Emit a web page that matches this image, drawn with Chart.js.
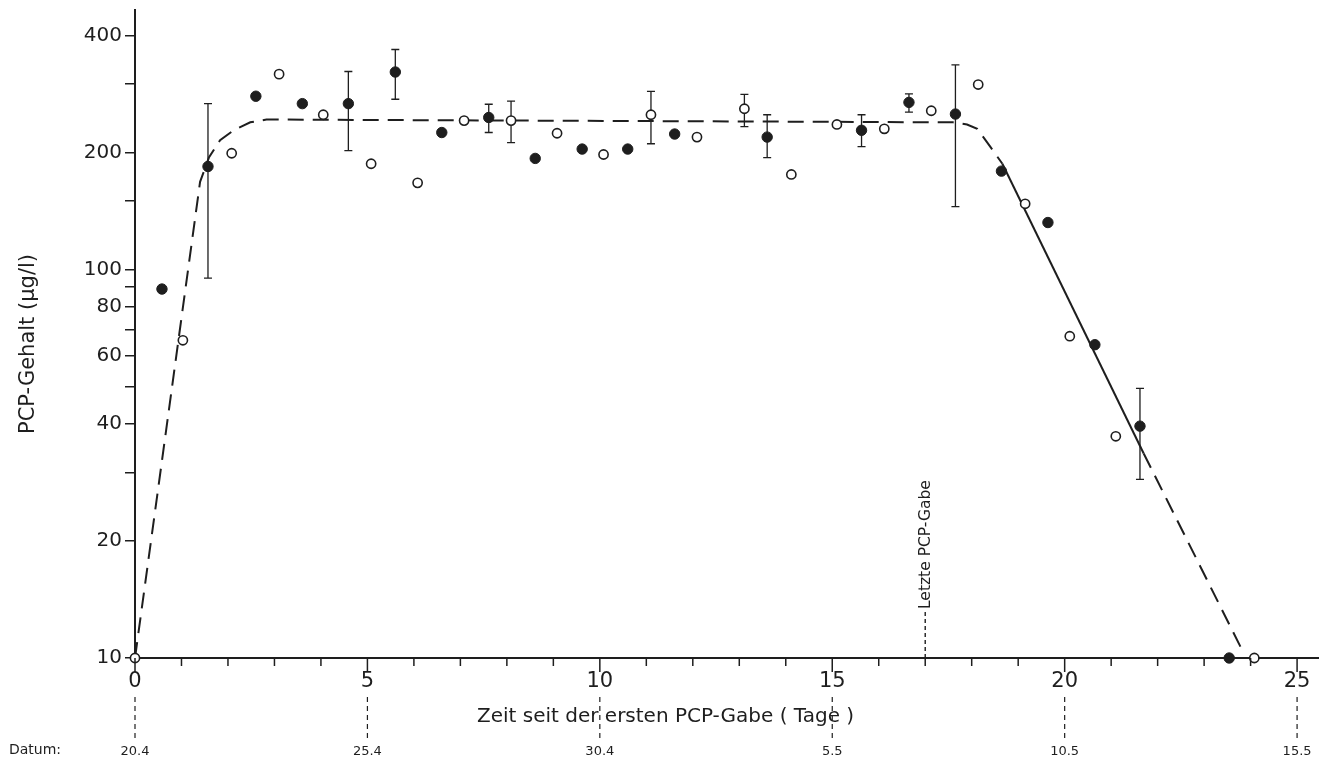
<!DOCTYPE html>
<html>
<head>
<meta charset="utf-8">
<script src="https://cdn.jsdelivr.net/npm/chart.js@4.4.0/dist/chart.umd.min.js"></script>
<style>
  html, body { margin: 0; padding: 0; background: #fff; }
  #wrap { width: 1331px; height: 767px; }
</style>
</head>
<body>
<div id="wrap"><canvas id="c"></canvas></div>
<script>
// ==== DATA ====
// filled circles
const filledDays = [0.58, 1.57, 2.6, 3.6, 4.59, 5.6, 6.6, 7.61, 8.61, 9.62, 10.6, 11.61, 13.6, 15.63, 16.65, 17.65, 18.64, 19.64, 20.65, 21.62, 23.54];
const filledPCP  = [89, 184, 279, 267, 267, 322, 225, 246, 193, 204, 204, 223, 219, 228, 269, 251, 179, 132, 64, 39.5, 10];
const filledLow  = [null, 95, null, null, 202, 274, null, 225, null, null, null, null, 194, 207, 254, 145, null, null, null, 28.8, null];
const filledHigh = [null, 267, null, null, 323, 368, null, 266, null, null, null, null, 250, 250, 283, 336, null, null, null, 49.4, null];

// open circles
const openDays = [0, 1.03, 2.08, 3.1, 4.05, 5.08, 6.08, 7.08, 8.09, 9.08, 10.08, 11.1, 12.09, 13.11, 14.12, 15.1, 16.12, 17.13, 18.14, 19.15, 20.11, 21.1, 24.08];
const openPCP  = [10, 65.7, 199, 318, 250, 187, 167, 241.5, 241.5, 224, 197.5, 250, 219, 259, 175.5, 236, 230, 256, 299, 147.5, 67.3, 37.2, 10];
const openLow  = [null, null, null, null, null, null, null, null, 212, null, null, 210.5, null, 233, null, null, null, null, null, null, null, null, null];
const openHigh = [null, null, null, null, null, null, null, null, 271, null, null, 287, null, 282, null, null, null, null, null, null, null, null, null];

// fitted curve (dashed, one solid stretch)
const fitDays = [0, 1.40, 1.59, 1.83, 2.12, 2.48, 2.83, 17.6, 17.9, 18.12, 18.41, 18.66, 21.7, 23.85];
const fitPCP  = [10, 168, 194, 215, 228, 239, 243, 239, 236, 230, 206, 187, 33.6, 10.3];
const SOLID_FROM = 11;   // segment 11 -> 12 is solid

const yTicks  = [10, 20, 30, 40, 50, 60, 70, 80, 90, 100, 150, 200, 300, 400];
const yLabels = [10, 20, 40, 60, 80, 100, 200, 400];
const xTicks  = [0,1,2,3,4,5,6,7,8,9,10,11,12,13,14,15,16,17,18,19,20,21,22,23,24,25];
const xLabels = [0, 5, 10, 15, 20, 25];
const dateDays   = [0, 5, 10, 15, 20, 25];
const dateLabels = ['20.4', '25.4', '30.4', '5.5', '10.5', '15.5'];
const LAST_DOSE_DAY = 17;

const INK = '#1e1e1e';
Chart.defaults.font.family = 'DejaVu Sans';
Chart.defaults.color = INK;

function toPts(xs, ys) { return xs.map((x, i) => ({x: x, y: ys[i]})); }

// ==== EXTRA DRAWING (error bars, ticks, dates, titles) ====
const extras = {
  id: 'extras',
  beforeDatasetsDraw(chart) {
    const {ctx, scales: {x, y}} = chart;
    ctx.save();
    ctx.strokeStyle = INK;
    ctx.lineWidth = 1.3;
    const bars = (days, lo, hi) => {
      days.forEach((d, i) => {
        if (lo[i] == null) return;
        const px = x.getPixelForValue(d);
        const y1 = y.getPixelForValue(lo[i]);
        const y2 = y.getPixelForValue(hi[i]);
        ctx.beginPath();
        ctx.moveTo(px, y1); ctx.lineTo(px, y2);
        ctx.moveTo(px - 4, y1); ctx.lineTo(px + 4, y1);
        ctx.moveTo(px - 4, y2); ctx.lineTo(px + 4, y2);
        ctx.stroke();
      });
    };
    bars(filledDays, filledLow, filledHigh);
    bars(openDays, openLow, openHigh);
    ctx.restore();
  },
  afterDraw(chart) {
    const {ctx, chartArea: area, scales: {x, y}} = chart;
    ctx.save();
    ctx.strokeStyle = INK;
    ctx.fillStyle = INK;

    // x ticks, longer on the labelled days
    ctx.lineWidth = 1.5;
    xTicks.forEach(d => {
      const px = x.getPixelForValue(d);
      const len = xLabels.includes(d) ? 14 : 8;
      ctx.beginPath();
      ctx.moveTo(px, area.bottom);
      ctx.lineTo(px, area.bottom + len);
      ctx.stroke();
    });

    // date row
    ctx.lineWidth = 1.2;
    ctx.setLineDash([5, 4]);
    dateDays.forEach(d => {
      const px = x.getPixelForValue(d);
      ctx.beginPath();
      ctx.moveTo(px, 697);
      ctx.lineTo(px, 742);
      ctx.stroke();
    });
    ctx.setLineDash([]);
    ctx.font = '13px "DejaVu Sans"';
    ctx.textAlign = 'center';
    ctx.textBaseline = 'middle';
    dateDays.forEach((d, i) => {
      ctx.fillText(dateLabels[i], x.getPixelForValue(d), 752);
    });
    ctx.textAlign = 'left';
    ctx.font = '14px "DejaVu Sans"';
    ctx.fillText('Datum:', 9, 750);

    // axis titles
    ctx.font = '20px "DejaVu Sans"';
    ctx.textAlign = 'left';
    ctx.textBaseline = 'alphabetic';
    ctx.fillText('Zeit seit der ersten PCP-Gabe ( Tage )', 477, 722);
    ctx.save();
    ctx.translate(34, 344);
    ctx.rotate(-Math.PI / 2);
    ctx.textAlign = 'center';
    ctx.font = '21px "DejaVu Sans"';
    ctx.fillText('PCP-Gehalt (\u00b5g/l)', 0, 0);
    ctx.restore();

    // last dose marker
    const lx = x.getPixelForValue(LAST_DOSE_DAY);
    ctx.lineWidth = 1.4;
    ctx.setLineDash([4, 3]);
    ctx.beginPath();
    ctx.moveTo(lx, area.bottom);
    ctx.lineTo(lx, 611);
    ctx.stroke();
    ctx.setLineDash([]);
    ctx.translate(lx + 1, 609);
    ctx.rotate(-Math.PI / 2);
    ctx.font = '15.5px "DejaVu Sans"';
    ctx.textAlign = 'left';
    ctx.textBaseline = 'middle';
    ctx.fillText('Letzte PCP-Gabe', 0, 0);
    ctx.restore();
  }
};

// ==== CHART ====
new Chart(document.getElementById('c'), {
  type: 'scatter',
  data: {
    datasets: [
      {
        label: 'gefüllt',
        data: toPts(filledDays, filledPCP),
        pointRadius: 5.2,
        pointBackgroundColor: INK,
        pointBorderColor: INK,
        pointBorderWidth: 1,
        clip: false
      },
      {
        label: 'offen',
        data: toPts(openDays, openPCP),
        pointRadius: 4.6,
        pointBackgroundColor: '#fff',
        pointBorderColor: INK,
        pointBorderWidth: 1.6,
        clip: false
      },
      {
        label: 'Kurve',
        data: toPts(fitDays, fitPCP),
        showLine: true,
        pointRadius: 0,
        borderColor: INK,
        borderWidth: 2,
        borderDash: [16, 9],
        segment: {
          borderDash: c => c.p0DataIndex === SOLID_FROM ? [] : [16, 9]
        },
        clip: false
      }
    ]
  },
  options: {
    responsive: true,
    maintainAspectRatio: false,
    animation: false,
    layout: { padding: { top: 10, right: 13, left: 0, bottom: 0 } },
    plugins: { legend: { display: false }, tooltip: { enabled: false } },
    scales: {
      x: {
        type: 'linear',
        min: 0,
        max: 25.45,
        afterFit: s => { s.height = 109; s.paddingLeft = 0; s.paddingRight = 0; },
        afterBuildTicks: s => { s.ticks = xTicks.map(v => ({value: v})); },
        grid: { display: false, drawTicks: false },
        border: { color: INK, width: 2 },
        ticks: {
          autoSkip: false,
          maxRotation: 0,
          padding: 11,
          font: { size: 21 },
          color: INK,
          callback: v => xLabels.includes(v) ? String(v) : ''
        }
      },
      y: {
        type: 'logarithmic',
        min: 10,
        max: 465,
        afterFit: s => { s.width = 135; s.paddingTop = 0; s.paddingBottom = 0; },
        afterBuildTicks: s => { s.ticks = yTicks.map(v => ({value: v})); },
        grid: { drawOnChartArea: false, drawTicks: true, tickLength: 10, color: INK, lineWidth: 1.5 },
        border: { color: INK, width: 2 },
        ticks: {
          autoSkip: false,
          padding: 3,
          font: { size: 20 },
          color: INK,
          callback: v => yLabels.includes(v) ? String(v) : ''
        }
      }
    }
  },
  plugins: [extras]
});
</script>
</body>
</html>
